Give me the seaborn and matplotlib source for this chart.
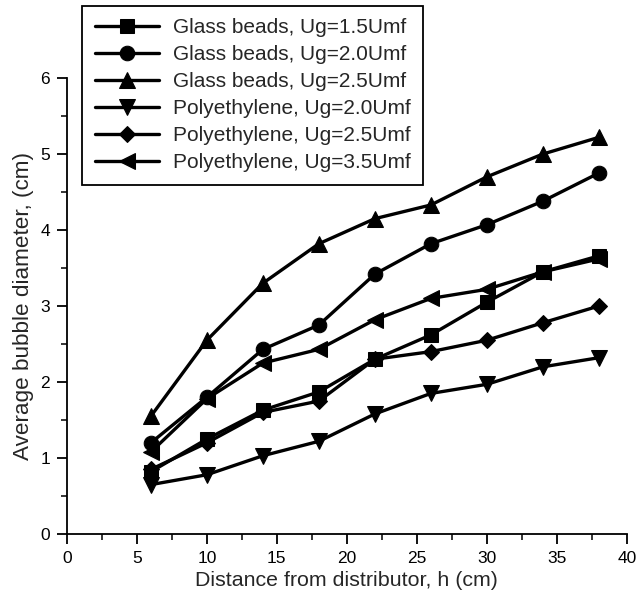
import matplotlib
matplotlib.use("Agg")
import matplotlib.pyplot as plt
import seaborn as sns
import pandas as pd
from matplotlib.ticker import MultipleLocator

h = [6, 10, 14, 18, 22, 26, 30, 34, 38]
labels = [
    "Glass beads, Ug=1.5Umf",
    "Glass beads, Ug=2.0Umf",
    "Glass beads, Ug=2.5Umf",
    "Polyethylene, Ug=2.0Umf",
    "Polyethylene, Ug=2.5Umf",
    "Polyethylene, Ug=3.5Umf",
]
glass_15 = [0.82, 1.25, 1.63, 1.87, 2.30, 2.62, 3.05, 3.45, 3.66]
glass_20 = [1.20, 1.80, 2.43, 2.75, 3.42, 3.82, 4.07, 4.38, 4.75]
glass_25 = [1.55, 2.55, 3.30, 3.82, 4.15, 4.33, 4.70, 5.00, 5.22]
pe_20 = [0.65, 0.78, 1.03, 1.22, 1.58, 1.85, 1.97, 2.20, 2.32]
pe_25 = [0.85, 1.20, 1.60, 1.75, 2.30, 2.40, 2.55, 2.78, 3.00]
pe_35 = [1.08, 1.78, 2.25, 2.43, 2.82, 3.10, 3.22, 3.45, 3.62]
series = [glass_15, glass_20, glass_25, pe_20, pe_25, pe_35]
marker_list = ["s", "o", "^", "v", "D", "<"]

rows = []
for lab, vals in zip(labels, series):
    for x, y in zip(h, vals):
        rows.append({"h": x, "d": y, "series": lab})
df = pd.DataFrame(rows)

sns.set_style("ticks")
plt.rcParams["font.family"] = ["Liberation Sans", "DejaVu Sans"]

fig = plt.figure(figsize=(6.37, 5.96), dpi=100)
ax = fig.add_axes([0.105, 0.104, 0.879, 0.765])

sizes = {"s": 9.5, "o": 10.5, "^": 11, "v": 11, "D": 8.5, "<": 11}
for lab, mk in zip(labels, marker_list):
    sns.lineplot(data=df[df["series"] == lab], x="h", y="d", ax=ax,
                 color="black", marker=mk, markersize=sizes[mk],
                 markeredgecolor="black", markerfacecolor="black",
                 linewidth=2.4, label=lab, legend=False)

ax.set_xlim(0, 40)
ax.set_ylim(0, 6)
ax.xaxis.set_major_locator(MultipleLocator(5))
ax.xaxis.set_minor_locator(MultipleLocator(2.5))
ax.yaxis.set_major_locator(MultipleLocator(1))
ax.yaxis.set_minor_locator(MultipleLocator(0.5))
for s in ["top", "right"]:
    ax.spines[s].set_visible(False)
for s in ["left", "bottom"]:
    ax.spines[s].set_linewidth(1.3)
    ax.spines[s].set_color("black")
ax.tick_params(which="major", direction="out", length=7, width=1.3, labelsize=12.5,
               colors="black", pad=5)
ax.tick_params(which="minor", direction="out", length=4, width=1.3)
ax.set_xlabel("Distance from distributor, h (cm)", fontsize=15.4, labelpad=4)
ax.set_ylabel("Average bubble diameter, (cm)", fontsize=16.2, labelpad=5)

handles, labs = ax.get_legend_handles_labels()
leg = fig.legend(handles, labs, loc="upper left", bbox_to_anchor=(0.129, 0.99),
                 fontsize=15, frameon=True, fancybox=False, framealpha=1,
                 edgecolor="black", handlelength=3.1, handletextpad=0.65,
                 borderaxespad=0, labelspacing=0.38, borderpad=0.6)
leg.get_frame().set_linewidth(1.3)

fig.savefig("out.png", dpi=100)
